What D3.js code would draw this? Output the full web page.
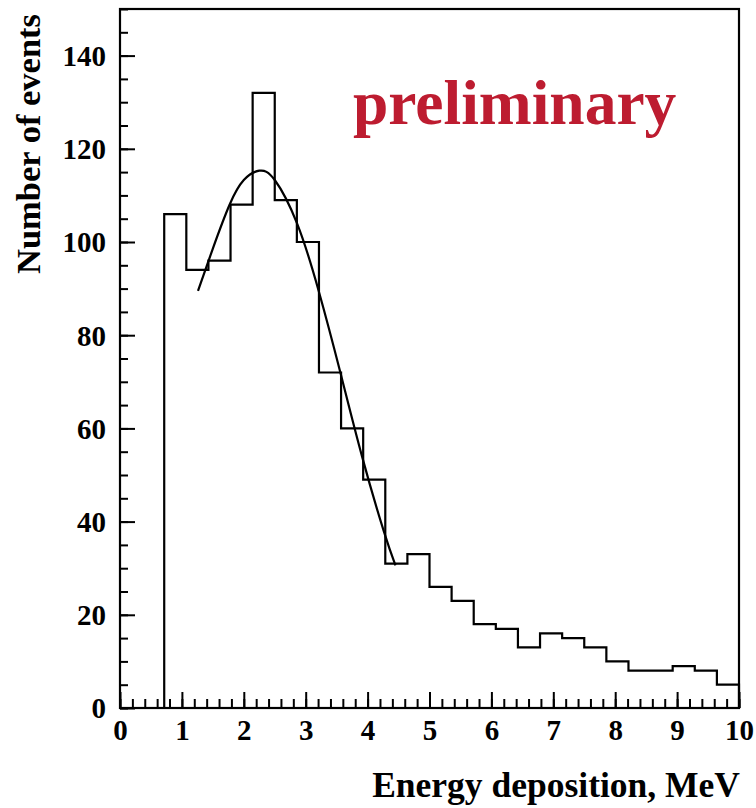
<!DOCTYPE html>
<html>
<head>
<meta charset="utf-8">
<script src="https://cdn.jsdelivr.net/npm/d3@7"></script>
<style>
  body { margin: 0; background: #fff; }
  text { font-family: "Liberation Serif", "Times New Roman", serif; font-weight: bold; }
</style>
</head>
<body>
<script>
// histogram: 28 bins over 0..10 MeV
var binCount = 28;
var counts = [0, 0, 106, 94, 96, 108, 132, 109, 100, 72, 60, 49, 31, 33,
              26, 23, 18, 17, 13, 16, 15, 13, 10, 8, 8, 9, 8, 5];

// fitted curve
var fitX = [1.26, 1.5, 1.77, 2.0, 2.25, 2.5, 2.86, 3.21, 3.56, 3.91, 4.26, 4.45];
var fitY = [89.5, 98.6, 108, 113.3, 115.3, 113.3, 104, 89.5, 72, 54, 38, 30.6];

var xTicks = [0, 1, 2, 3, 4, 5, 6, 7, 8, 9, 10];
var yTicks = [0, 20, 40, 60, 80, 100, 120, 140];

var margin = {top: 9, right: 17, bottom: 100, left: 120},
    width = 756 - margin.left - margin.right,
    height = 808 - margin.top - margin.bottom;

var svg = d3.select("body")
            .append("svg")
            .attr("width", 756)
            .attr("height", 808)
            .append("g")
            .attr("transform", "translate(" + margin.left + "," + margin.top + ")");

var x = d3.scaleLinear().domain([0, 10]).range([0, width]);
var y = d3.scaleLinear().domain([0, 150]).range([height, 0]);

// minor ticks
svg.append("g")
   .attr("transform", "translate(0," + height + ")")
   .call(d3.axisTop(x).tickValues(d3.range(0, 10.01, 0.2)).tickSize(9).tickFormat(""))
   .call(function(g) { g.select(".domain").remove(); });
svg.append("g")
   .call(d3.axisRight(y).tickValues(d3.range(0, 150.01, 5)).tickSize(8).tickFormat(""))
   .call(function(g) { g.select(".domain").remove(); });

// major ticks with labels
var xa = svg.append("g")
   .attr("transform", "translate(0," + height + ")")
   .call(d3.axisTop(x).tickValues(xTicks).tickSize(16).tickFormat(d3.format("d")));
xa.select(".domain").remove();
xa.selectAll("text")
  .attr("y", 32)
  .attr("dy", 0)
  .style("font-size", "29px")
  .style("text-anchor", "middle");

var ya = svg.append("g")
   .call(d3.axisRight(y).tickValues(yTicks).tickSize(15).tickFormat(d3.format("d")));
ya.select(".domain").remove();
ya.selectAll("text")
  .attr("x", -14)
  .attr("dy", "0.34em")
  .style("font-size", "29px")
  .style("text-anchor", "end");

svg.selectAll(".tick line").attr("stroke", "#000").attr("stroke-width", 2);

// histogram outline
var binW = 10 / binCount;
var first = counts.findIndex(function(c) { return c > 0; });
var pts = [[first * binW, 0]];
counts.forEach(function(c, i) {
    if (i < first) return;
    pts.push([i * binW, c]);
    pts.push([(i + 1) * binW, c]);
});
pts.push([10, 0]);

var line = d3.line()
             .x(function(d) { return x(d[0]); })
             .y(function(d) { return y(d[1]); });

svg.append("path")
   .attr("d", line(pts))
   .attr("fill", "none")
   .attr("stroke", "#000")
   .attr("stroke-width", 2.2);

// fit
var fitLine = d3.line()
                .x(function(d, i) { return x(fitX[i]); })
                .y(function(d) { return y(d); })
                .curve(d3.curveNatural);
svg.append("path")
   .attr("d", fitLine(fitY))
   .attr("fill", "none")
   .attr("stroke", "#000")
   .attr("stroke-width", 2.2);

// frame
svg.append("rect")
   .attr("width", width)
   .attr("height", height)
   .attr("fill", "none")
   .attr("stroke", "#000")
   .attr("stroke-width", 2.2);

svg.append("text")
   .attr("x", 233)
   .attr("y", 115)
   .attr("fill", "#bd1c30")
   .style("font-size", "63.5px")
   .text("preliminary");

svg.append("text")
   .attr("transform", "translate(620," + (height + 89) + ")")
   .style("text-anchor", "end")
   .style("font-size", "35.5px")
   .text("Energy deposition, MeV");

svg.append("text")
   .attr("transform", "rotate(-90)")
   .attr("x", -135)
   .attr("y", -80)
   .style("text-anchor", "middle")
   .style("font-size", "34.5px")
   .text("Number of events");
</script>
</body>
</html>
